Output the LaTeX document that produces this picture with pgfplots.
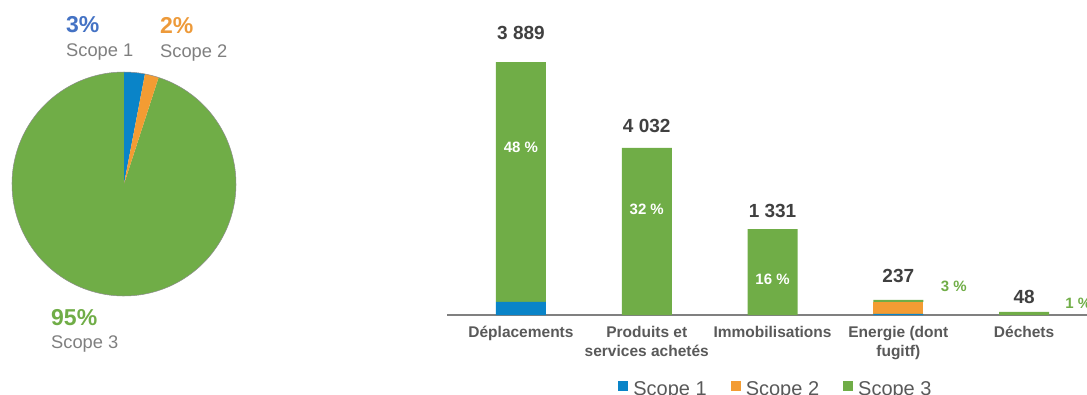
\documentclass[border=0pt]{standalone}
\usepackage{pgfplots}
\pgfplotsset{compat=1.18}
\usepackage{fontspec}
\setmainfont{Liberation Sans}
\definecolor{sA}{HTML}{0A84C8}
\definecolor{sB}{HTML}{F39C33}
\definecolor{sC}{HTML}{70AD47}
\definecolor{pA}{HTML}{4472C4}
\definecolor{pB}{HTML}{ED9A3A}
\definecolor{txt}{HTML}{7F7F7F}
\definecolor{dk}{HTML}{595959}
\definecolor{vl}{HTML}{404040}
% pie shares (%)
\def\pieA{3}\def\pieB{2}\def\pieC{95}
\pgfplotstableread{
x s1 s2 s3
0 2.5 0 45.8
1 0 0 31.9
2 0 0 16.4
3 0.2 2.3 0.4
4 0 0 0.6
}\bars
\begin{document}
\begin{tikzpicture}[x=1pt,y=1pt]
\clip (0,0) rectangle (1087,394);
\pgfmathsetmacro\aA{90-3.6*\pieA}
\pgfmathsetmacro\aB{\aA-3.6*\pieB}
\pgfmathsetmacro\aC{\aB-3.6*\pieC}
\begin{axis}[at={(124pt,210pt)}, anchor=center, hide axis, x=112pt, y=112pt,
  xmin=-1.05, xmax=1.05, ymin=-1.05, ymax=1.05, clip=false]
\fill[sC] (axis cs:0,0) -- ++(\aB:112pt) arc[start angle=\aB, end angle=\aC, radius=112pt] -- cycle;
\fill[sA] (axis cs:0,0) -- ++(90:112pt) arc[start angle=90, end angle=\aA, radius=112pt] -- cycle;
\fill[sB] (axis cs:0,0) -- ++(\aA:112pt) arc[start angle=\aA, end angle=\aB, radius=112pt] -- cycle;
\draw[black!45, line width=0.5pt] (axis cs:0,0) circle[radius=112pt];
\end{axis}
% pie labels
\node[anchor=base west, inner sep=0pt, text=pA, font=\bfseries\fontsize{23}{23}\selectfont] at (66,361) {3\%};
\node[anchor=base west, inner sep=0pt, text=txt, font=\fontsize{18.3}{18}\selectfont] at (66,337) {Scope 1};
\node[anchor=base west, inner sep=0pt, text=pB, font=\bfseries\fontsize{23}{23}\selectfont] at (160,360) {2\%};
\node[anchor=base west, inner sep=0pt, text=txt, font=\fontsize{18.3}{18}\selectfont] at (160,336) {Scope 2};
\node[anchor=base west, inner sep=0pt, text=sC, font=\bfseries\fontsize{23}{23}\selectfont] at (51,69) {95\%};
\node[anchor=base west, inner sep=0pt, text=txt, font=\fontsize{18.3}{18}\selectfont] at (51,46) {Scope 3};
% bars
\begin{axis}[at={(447pt,79pt)}, anchor=south west, scale only axis,
  width=640pt, height=288pt, xmin=-0.588, xmax=4.5, ymin=0, ymax=55,
  ybar stacked, bar width=50pt,
  axis x line*=bottom, axis y line=none,
  axis line style={draw=black!50, line width=1.2pt, -},
  xtick={0,1,2,3,4}, ytick=\empty, major tick length=0pt,
  xticklabels={D\'eplacements,{Produits et\\services achet\'es},Immobilisations,{Energie (dont\\fugitf)},D\'echets},
  xticklabel style={font=\bfseries\fontsize{15.5}{19}\selectfont, text=dk, align=center, anchor=north, inner sep=0pt, yshift=-11pt},
  clip=false,
  legend columns=3,
  legend style={at={(0.514,-0.257)}, anchor=center, draw=none, fill=none,
    font=\fontsize{20}{20}\selectfont, text=dk,
    /tikz/every even column/.append style={column sep=22pt}},
  legend image code/.code={\fill[#1, draw=none] (0pt,-2pt) rectangle (10pt,8pt); \path (13pt,0pt);},
  ]
\addplot[fill=sA, draw=none] table[x=x, y=s1] {\bars};
\addplot[fill=sB, draw=none] table[x=x, y=s2] {\bars};
\addplot[fill=sC, draw=none] table[x=x, y=s3] {\bars};
\legend{Scope 1, Scope 2, Scope 3}
\coordinate (v0) at (axis cs:0,53.9);
\coordinate (v1) at (axis cs:1,36.1);
\coordinate (v2) at (axis cs:2,19.9);
\coordinate (v3) at (axis cs:3,7.4);
\coordinate (v4) at (axis cs:4,3.4);
\coordinate (p0) at (axis cs:0,32.1);
\coordinate (p1) at (axis cs:1,20.1);
\coordinate (p2) at (axis cs:2,6.9);
\coordinate (p3) at (axis cs:3.31,5.5);
\coordinate (p4) at (axis cs:4.30,2.3);
\end{axis}
\tikzset{vlab/.style={font=\bfseries\fontsize{19}{19}\selectfont, text=vl},
  plab/.style={font=\bfseries\fontsize{15}{15}\selectfont, text=white}}
\node[vlab] at (v0) {3 889};
\node[vlab] at (v1) {4 032};
\node[vlab] at (v2) {1 331};
\node[vlab] at (v3) {237};
\node[vlab] at (v4) {48};
\node[plab] at (p0) {48 \%};
\node[plab] at (p1) {32 \%};
\node[plab] at (p2) {16 \%};
\node[plab, text=sC, anchor=west] at (p3) {3 \%};
\node[plab, text=sC, anchor=west] at (p4) {1 \%};
\end{tikzpicture}
\end{document}
